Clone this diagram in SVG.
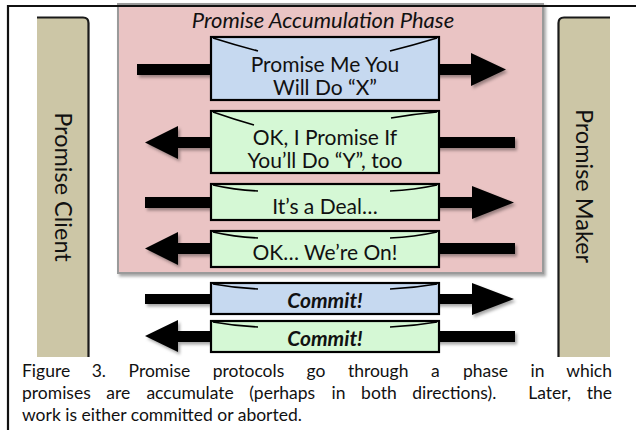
<svg xmlns="http://www.w3.org/2000/svg" width="636" height="430" viewBox="0 0 636 430">
  <style>
    .frame { fill: none; stroke: #111; stroke-width: 2.2; }
    .phase { fill: #EAC4C4; stroke: #9A9A9A; stroke-width: 2; }
    .panel { fill: #CCC6A6; }
    .panel-edge { fill: none; stroke: #1A1A1A; stroke-width: 2.2; }
    .msg-blue { fill: #C6D9F0; stroke: #000; stroke-width: 2.2; }
    .msg-green { fill: #D5F8D5; stroke: #000; stroke-width: 2.2; }
    .flap { fill: none; stroke: #000; stroke-width: 1.6; }
    .arrow { fill: #000; }
    .label { font-family: Lato, "Open Sans", "Liberation Sans", sans-serif; font-size: 21px; fill: #111; text-anchor: middle; }
    .commit { font-weight: bold; font-style: italic; font-size: 21px; }
    .title { font-family: Lato, "Open Sans", "Liberation Sans", sans-serif; font-size: 22px; font-style: italic; fill: #111; text-anchor: middle; }
    .side { font-family: Lato, "Open Sans", "Liberation Sans", sans-serif; font-size: 23.5px; fill: #111; text-anchor: middle; }
    .caption { font-family: Lato, "Open Sans", "Liberation Sans", sans-serif; font-size: 17.5px; fill: #111; }
  </style>
  <defs>
    <filter id="shadow" x="-10%" y="-20%" width="130%" height="160%">
      <feDropShadow dx="2" dy="2.5" stdDeviation="1.8" flood-color="#000" flood-opacity="0.35"/>
    </filter>
  </defs>

  <rect width="636" height="430" fill="#fff"/>

  <!-- phase region -->
  <g id="phase">
    <rect class="phase" x="118" y="4" width="425" height="269" filter="url(#shadow)"/>
    <text class="title" x="323" y="28">Promise Accumulation Phase</text>
  </g>

  <!-- outer frame (top and left rules) -->
  <path class="frame" d="M8 430 V6 H636"/>

  <!-- side participants -->
  <g id="client">
    <path class="panel" d="M37 17 H83 Q89 17 89 23 V357 H37 Z"/>
    <path class="panel-edge" d="M37 17.5 H83 Q88.5 17.5 88.5 23 V357"/>
    <text class="side" transform="translate(63 187) rotate(90)" y="8">Promise Client</text>
  </g>
  <g id="maker">
    <path class="panel" d="M610 17 H564 Q558 17 558 23 V357 H610 Z"/>
    <path class="panel-edge" d="M610 17.5 H564 Q558.5 17.5 558.5 23 V357"/>
    <text class="side" transform="translate(584 186) rotate(90)" y="8">Promise Maker</text>
  </g>

  <!-- message arrows -->
  <g id="connectors" filter="url(#shadow)">
    <polygon class="arrow" points="137,64 471,64 471,53 506,69.5 471,86 471,75 137,75"/>
    <polygon class="arrow" points="515,137 178,137 178,126 145,142.5 178,159 178,148 515,148"/>
    <polygon class="arrow" points="145,197 472,197 472,186 514,202.5 472,219 472,208 145,208"/>
    <polygon class="arrow" points="515,243 178,243 178,232 145,248.5 178,265 178,254 515,254"/>
    <polygon class="arrow" points="145,294 472,294 472,283 514,299 472,315 472,304 145,304"/>
    <polygon class="arrow" points="515,331 178,331 178,320 145,336 178,352 178,342 515,342"/>
  </g>

  <!-- message envelopes -->
  <g id="msg-promise-x">
    <rect class="msg-blue" x="211" y="37" width="228" height="63"/>
    <path class="flap" d="M213 38 Q235 45 258 51 M437 38 Q414 45 390 51"/>
    <text class="label" x="325" y="72">Promise Me You</text>
    <text class="label" x="325" y="95">Will Do “X”</text>
  </g>
  <g id="msg-promise-y">
    <rect class="msg-green" x="211" y="111" width="228" height="62"/>
    <path class="flap" d="M213 112 Q233 119 254 125 M437 112 Q414 114 391 118"/>
    <text class="label" x="325" y="145">OK, I Promise If</text>
    <text class="label" x="325" y="168">You’ll Do “Y”, too</text>
  </g>
  <g id="msg-deal">
    <rect class="msg-green" x="211" y="184" width="228" height="36"/>
    <path class="flap" d="M213 185 Q235 190 258 191 M437 185 Q414 190 390 191"/>
    <text class="label" x="325" y="214">It’s a Deal…</text>
  </g>
  <g id="msg-on">
    <rect class="msg-green" x="211" y="231" width="228" height="36"/>
    <path class="flap" d="M213 232 Q235 237 258 238 M437 232 Q414 237 390 238"/>
    <text class="label" x="325" y="260">OK… We’re On!</text>
  </g>
  <g id="msg-commit-out">
    <rect class="msg-blue" x="211" y="283" width="228" height="31"/>
    <path class="flap" d="M213 284 Q235 288 258 289 M437 284 Q414 288 390 289"/>
    <text class="label commit" x="325" y="308">Commit!</text>
  </g>
  <g id="msg-commit-back">
    <rect class="msg-green" x="211" y="321" width="228" height="31"/>
    <path class="flap" d="M213 322 Q235 326 258 327 M437 322 Q414 326 390 327"/>
    <text class="label commit" x="325" y="346">Commit!</text>
  </g>

  <!-- caption (justified lines set word by word) -->
  <g id="caption" class="caption">
    <text y="377"><tspan x="22">Figure</tspan><tspan x="91.7">3.</tspan><tspan x="128.6">Promise</tspan><tspan x="212.7">protocols</tspan><tspan x="306.5">go</tspan><tspan x="347.9">through</tspan><tspan x="431.1">a</tspan><tspan x="462.9">phase</tspan><tspan x="530.5">in</tspan><tspan x="612" text-anchor="end">which</tspan></text>
    <text y="399"><tspan x="22">promises</tspan><tspan x="106.3">are</tspan><tspan x="146.4">accumulate</tspan><tspan x="249.3">(perhaps</tspan><tspan x="331.5">in</tspan><tspan x="361.1">both</tspan><tspan x="412.2">directions).</tspan><tspan x="528.3">Later,</tspan><tspan x="612" text-anchor="end">the</tspan></text>
    <text x="22" y="421">work is either committed or aborted.</text>
  </g>
</svg>
